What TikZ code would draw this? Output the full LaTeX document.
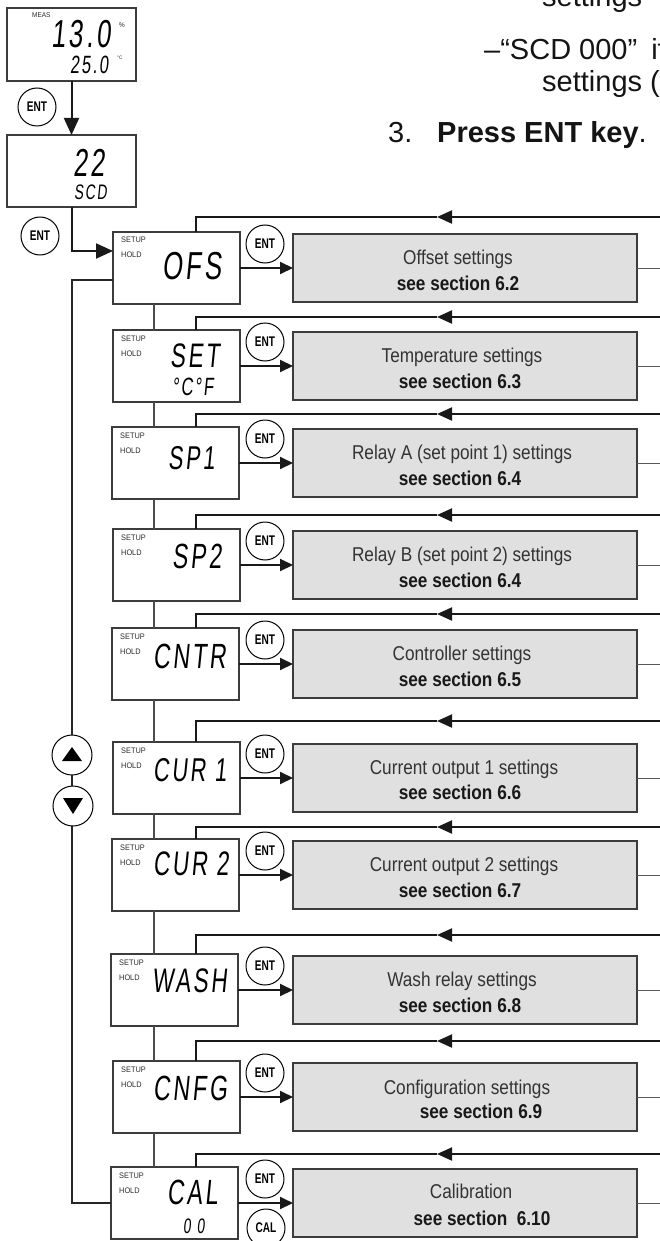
\documentclass[tikz,border=0pt]{standalone}
\usepackage{fontspec}
\setmainfont{Liberation Sans}
\newfontfamily\narrowf{Liberation Sans}[FakeStretch=0.86]
\newfontfamily\lcdf{Liberation Sans}[FakeStretch=0.66,FakeSlant=0.1,LetterSpace=8]
\newfontfamily\keyf{Liberation Sans}[FakeStretch=0.72]
\newfontfamily\tinyf{Liberation Sans}[FakeStretch=0.92]
\usetikzlibrary{arrows.meta}
\definecolor{boxgray}{HTML}{E0E0E0}
\definecolor{edge}{HTML}{3C3C3C}
\definecolor{txt}{HTML}{2A2A2A}
\tikzset{
  dbox/.style={draw=edge, line width=1.4pt, fill=white, rectangle, anchor=north west,
    minimum width=127pt, minimum height=72pt, inner sep=0pt, outer sep=0pt},
  gbox/.style={draw=edge, line width=1.3pt, fill=boxgray, rectangle, anchor=north west,
    minimum width=344pt, minimum height=68pt, inner sep=0pt, outer sep=0pt},
  entkey/.style={draw=black, line width=1pt, circle, minimum size=38pt, inner sep=0pt,
    fill=white, font=\keyf\bfseries\fontsize{14}{14}\selectfont},
  tinylab/.style={anchor=base west, inner sep=0pt, font=\tinyf\fontsize{8}{8}\selectfont, text=txt},
  lcdtext/.style={anchor=base west, inner sep=0pt, text=black},
  gline1/.style={anchor=base, inner sep=0pt, font=\narrowf\fontsize{20}{24}\selectfont, text=black!80},
  gline2/.style={anchor=base, inner sep=0pt, font=\narrowf\bfseries\fontsize{20}{24}\selectfont, text=black!90},
  toptext/.style={anchor=base west, inner sep=0pt, font=\fontsize{29}{33}\selectfont, text=black!92},
  flowarrow/.style={line width=2pt, draw=black!90, -{Triangle[length=13pt,width=12pt]}},
  bigarrow/.style={line width=2pt, draw=black!90, -{Triangle[length=17pt,width=15pt]}},
  retline/.style={line width=2pt, draw=black!90},
  retarrow/.style={line width=2pt, draw=black!90, -{Triangle[length=15pt,width=13pt]}},
  sideline/.style={line width=1pt, draw=black!65},
  linkline/.style={line width=1.1pt, draw=black!70},
  backline/.style={line width=1.5pt, draw=black!85},
}
\newcommand\mrow[4]{%
  \node[dbox] (#1) at (#2,#3) {};
  \node[tinylab] (#1-su) at (#2+8,#3+11) {SETUP};
  \node[tinylab] (#1-ho) at (#2+8,#3+26) {HOLD};
  \node[gbox] (#1-g) at (293,#3+2) {};
  \node[entkey] (#1-k) at (265,#3+12) {ENT};
  \draw[flowarrow] (#1.east) -- (#1.east -| #1-g.west);
  \coordinate (#1-r) at (660,#4);
  \coordinate (#1-a) at (437,#4);
  \coordinate (#1-c) at (196,#4);
  \draw[retarrow] (#1-r) -- (#1-a);
  \draw[retline] (#1-a) -- (#1-c) -- (#1-c |- #1.north);
  \draw[sideline] (#1-g.east) -- (#1-g.east -| #1-r);
}
\begin{document}
\begin{tikzpicture}[x=1pt,y=-1pt]
\useasboundingbox (0,0) rectangle (660,1241);
\fill[white] (0,0) rectangle (660,1241);

% top right text
\node[toptext] (t1) at (542,7) {settings};
\node[toptext] (t2) at (484,60) {–“SCD 000”\hspace{14pt}if};
\node[toptext] (t3) at (542,92) {settings (};
\node[toptext] (t4) at (388,143) {3.};
\node[toptext] (t5) at (437,143) {\textbf{Press ENT key}.};

% measuring display
\node[dbox, minimum width=129pt, minimum height=73pt] (meas) at (7,8) {};
\node[tinylab, font=\tinyf\fontsize{7}{7}\selectfont] (meas-l) at (32,18) {MEAS};
\node[lcdtext, font=\lcdf\fontsize{39}{39}\selectfont] (meas-v) at (51,48) {13.0};
\node[tinylab, font=\tinyf\fontsize{7}{7}\selectfont] (meas-p) at (119,28) {\%};
\node[lcdtext, font=\lcdf\fontsize{25}{25}\selectfont] (meas-t) at (70,74) {25.0};
\node[tinylab, font=\tinyf\fontsize{5}{5}\selectfont] (meas-c) at (117,60) {°C};

\node[dbox, minimum width=129pt, minimum height=72pt] (scd) at (7,135) {};
\node[lcdtext, font=\lcdf\fontsize{39}{39}\selectfont] (scd-v) at (73,177) {22};
\node[lcdtext, font=\lcdf\fontsize{21}{21}\selectfont] (scd-t) at (74,200) {SCD};

\node[entkey] (k1) at (37,107) {ENT};
\node[entkey] (k2) at (40,236) {ENT};
\draw[bigarrow] (meas.south) -- (scd.north);

% menu rows
\mrow{ofs}{113}{232}{217}
\mrow{set}{113}{330}{317}
\mrow{spa}{112}{427}{414}
\mrow{spb}{113}{529}{515}
\mrow{cntr}{112}{628}{614}
\mrow{cura}{113}{742}{721}
\mrow{curb}{112}{839}{827}
\mrow{wash}{111}{954}{935}
\mrow{cnfg}{113}{1061}{1041}
\mrow{cal}{111}{1167}{1154}
\node[entkey] (cal-k2) at (266,1228) {CAL};

% entry into OFS
\coordinate (ofsin) at (113,251);
\draw[bigarrow] (scd.south) |- (ofsin);

% vertical links between displays
\coordinate (vx) at (154,0);
\foreach \a/\b in {ofs/set,set/spa,spa/spb,spb/cntr,cntr/cura,cura/curb,curb/wash,wash/cnfg,cnfg/cal}{
  \draw[linkline] (\a.south -| vx) -- (\b.north -| vx);
}

% back loop with up/down keys
\coordinate (ofsL) at (113,280);
\coordinate (lx) at (72,0);
\draw[backline] (ofsL) -- (ofsL -| lx) -- (cal.west -| lx) -- (cal.west);
\node[draw=black, line width=1pt, circle, minimum size=40pt, fill=white, inner sep=0pt] (up) at (72,755) {};
\node[draw=black, line width=1pt, circle, minimum size=40pt, fill=white, inner sep=0pt] (down) at (73,806) {};
\fill[black] (62,761) -- (82,761) -- (72,747) -- cycle;
\fill[black] (63,798) -- (83,798) -- (73,814) -- cycle;

% LCD texts
\node[lcdtext, font=\lcdf\fontsize{39}{39}\selectfont] (ofs-t) at (162,279) {OFS};
\node[lcdtext, font=\lcdf\fontsize{34}{34}\selectfont] (set-t) at (170,367) {SET};
\node[lcdtext, font=\lcdf\fontsize{25}{25}\selectfont] (set-u) at (172,395) {°C°F};
\node[lcdtext, font=\lcdf\fontsize{33}{33}\selectfont] (spa-t) at (168,469) {SP1};
\node[lcdtext, font=\lcdf\fontsize{35}{35}\selectfont] (spb-t) at (172,568) {SP2};
\node[lcdtext, font=\lcdf\fontsize{35}{35}\selectfont] (cntr-t) at (153,668) {CNTR};
\node[lcdtext, font=\lcdf\fontsize{33}{33}\selectfont] (cura-t) at (153,781) {CUR 1};
\node[lcdtext, font=\lcdf\fontsize{34}{34}\selectfont] (curb-t) at (153,875) {CUR 2};
\node[lcdtext, font=\lcdf\fontsize{34}{34}\selectfont] (wash-t) at (152,992) {WASH};
\node[lcdtext, font=\lcdf\fontsize{35}{35}\selectfont] (cnfg-t) at (153,1100) {CNFG};
\node[lcdtext, font=\lcdf\fontsize{35}{35}\selectfont] (cal-t) at (167,1204) {CAL};
\node[lcdtext, font=\lcdf\fontsize{21}{21}\selectfont] (cal-u) at (183,1233) {0\hspace{6pt}0};

% grey box texts
\node[gline1] (ofs-1) at (458,264) {Offset settings};
\node[gline2] (ofs-2) at (458,290) {see section 6.2};
\node[gline1] (set-1) at (462,362) {Temperature settings};
\node[gline2] (set-2) at (460,388) {see section 6.3};
\node[gline1] (spa-1) at (462,459) {Relay A (set point 1) settings};
\node[gline2] (spa-2) at (460,485) {see section 6.4};
\node[gline1] (spb-1) at (462,561) {Relay B (set point 2) settings};
\node[gline2] (spb-2) at (460,587) {see section 6.4};
\node[gline1] (cntr-1) at (462,660) {Controller settings};
\node[gline2] (cntr-2) at (460,686) {see section 6.5};
\node[gline1] (cura-1) at (464,774) {Current output 1 settings};
\node[gline2] (cura-2) at (460,799) {see section 6.6};
\node[gline1] (curb-1) at (464,871) {Current output 2 settings};
\node[gline2] (curb-2) at (460,897) {see section 6.7};
\node[gline1] (wash-1) at (462,986) {Wash relay settings};
\node[gline2] (wash-2) at (460,1012) {see section 6.8};
\node[gline1] (cnfg-1) at (467,1094) {Configuration settings};
\node[gline2] (cnfg-2) at (481,1118) {see section 6.9};
\node[gline1] (cal-1) at (471,1198) {Calibration};
\node[gline2] (cal-2) at (482,1225) {see section\ \ 6.10};
\end{tikzpicture}
\end{document}
